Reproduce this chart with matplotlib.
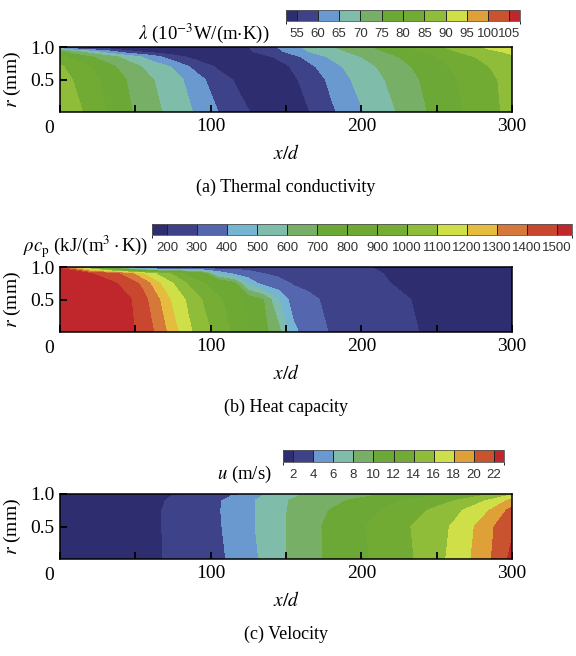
import matplotlib
matplotlib.use("Agg")
import matplotlib as mpl
import matplotlib.pyplot as plt
import numpy as np
from matplotlib.colors import ListedColormap, BoundaryNorm

plt.rcParams['font.family'] = ['Liberation Serif', 'DejaVu Serif']
plt.rcParams['mathtext.fontset'] = 'stix'

# ---------------- data ----------------
# (a) thermal conductivity, 10^-3 W/(m K), on an (r, x/d) grid
lam_x = [0, 5, 15, 30, 45, 60, 75, 90, 105, 120, 135, 150, 165, 180, 195, 210, 225, 240, 255, 270, 285, 300]
lam_r = [0, 0.5, 0.7, 0.85, 0.93, 1.0]
lam_vals = [
    [87.5, 86.8, 85.0, 80.3, 75.8, 71.8, 68.3, 64.5, 60.0, 56.2, 53.2, 52.6, 54.8, 59.1, 63.3, 67.0, 70.4, 74.2, 77.3, 80.4, 83.5, 86.5],
    [86.3, 85.7, 83.5, 78.8, 74.7, 70.5, 67.2, 62.2, 57.0, 53.8, 52.2, 53.2, 56.6, 61.2, 65.5, 68.8, 72.0, 75.3, 78.5, 81.2, 84.0, 86.7],
    [85.6, 84.4, 81.5, 77.1, 72.5, 68.3, 64.4, 58.3, 54.2, 52.4, 52.5, 54.3, 58.6, 63.1, 67.0, 70.0, 73.3, 76.4, 79.4, 82.3, 85.0, 87.5],
    [80.8, 79.5, 76.8, 72.5, 68.0, 62.8, 56.8, 53.3, 52.0, 52.0, 53.6, 57.0, 61.6, 65.8, 69.0, 72.0, 75.0, 78.0, 81.0, 84.0, 86.8, 89.2],
    [76.0, 73.5, 68.8, 62.5, 56.2, 53.0, 52.0, 51.6, 51.8, 53.2, 56.7, 60.5, 65.0, 68.0, 71.0, 74.0, 77.0, 80.0, 83.4, 86.3, 88.9, 91.0],
    [60.0, 53.0, 51.5, 51.2, 51.0, 51.0, 51.0, 51.0, 51.5, 53.5, 57.5, 61.5, 66.5, 69.5, 72.5, 75.5, 78.5, 81.5, 85.0, 88.0, 91.0, 94.0],
]
lam_ticks = [55, 60, 65, 70, 75, 80, 85, 90, 95, 100, 105]

# (b) volumetric heat capacity, kJ/(m^3 K)
cap_x = [0, 20, 35, 45, 55, 65, 75, 85, 95, 105, 115, 125, 135, 145, 155, 165, 180, 200, 220, 240, 270, 300]
cap_r = [0, 0.5, 0.75, 0.9, 0.97, 1.0]
cap_vals = [
    [1620, 1610, 1575, 1530, 1462, 1375, 1243, 1122, 1040, 962, 885, 808, 731, 634, 425, 350, 292, 262, 229, 197, 183, 170],
    [1610, 1595, 1560, 1518, 1438, 1315, 1175, 1082, 992, 921, 850, 769, 700, 500, 345, 318, 280, 250, 218, 190, 180, 168],
    [1590, 1560, 1515, 1455, 1375, 1215, 1100, 990, 908, 825, 737, 470, 355, 325, 293, 280, 262, 232, 199, 185, 177, 166],
    [1560, 1505, 1430, 1350, 1200, 1080, 980, 867, 745, 470, 380, 340, 300, 285, 272, 260, 245, 218, 193, 183, 175, 165],
    [1540, 1100, 800, 600, 450, 390, 370, 350, 310, 295, 290, 280, 270, 262, 255, 248, 238, 208, 190, 182, 174, 164],
    [800, 330, 300, 290, 282, 276, 270, 265, 260, 256, 252, 248, 244, 240, 236, 232, 225, 205, 188, 180, 172, 163],
]
cap_ticks = [200, 300, 400, 500, 600, 700, 800, 900, 1000, 1100, 1200, 1300, 1400, 1500]

# (c) axial velocity, m/s
vel_x = [0, 40, 60, 70, 80, 100, 110, 120, 130, 140, 150, 160, 175, 190, 205, 220, 235, 250, 262, 275, 287, 300]
vel_r = [0, 0.5, 0.75, 0.9, 0.97, 1.0]
vel_vals = [
    [1.3, 1.6, 1.85, 2.03, 2.5, 3.5, 4.0, 4.9, 5.8, 6.9, 8.0, 8.8, 10.05, 11.0, 12.0, 13.0, 14.0, 15.4, 16.6, 18.3, 20.1, 22.6],
    [1.3, 1.6, 1.85, 2.05, 2.55, 3.55, 4.15, 5.1, 6.05, 7.0, 8.0, 8.8, 10.1, 11.1, 12.1, 13.1, 14.15, 15.3, 16.3, 18.0, 19.85, 21.6],
    [1.3, 1.6, 1.85, 2.05, 2.55, 3.6, 4.2, 5.1, 6.05, 7.0, 7.95, 8.6, 9.8, 10.7, 11.6, 12.5, 13.4, 14.4, 15.5, 16.8, 18.25, 20.7],
    [1.25, 1.55, 1.8, 2.0, 2.5, 3.55, 4.15, 5.1, 6.05, 6.95, 7.9, 8.45, 9.25, 10.0, 10.8, 11.6, 12.4, 13.3, 14.0, 15.2, 16.5, 18.6],
    [1.1, 1.4, 1.65, 1.85, 2.25, 3.2, 3.75, 4.5, 5.6, 6.5, 7.4, 8.1, 8.8, 9.4, 9.9, 10.6, 11.3, 12.0, 12.6, 13.6, 14.8, 16.5],
    [0.9, 1.2, 1.4, 1.55, 1.9, 2.7, 3.2, 3.8, 4.7, 5.5, 6.3, 6.9, 7.5, 8.0, 8.4, 9.0, 9.6, 10.2, 10.7, 11.5, 12.6, 14.0],
]
vel_ticks = [2, 4, 6, 8, 10, 12, 14, 16, 18, 20, 22]

# ---------------- colours ----------------
colors12 = ['#2e2d6f', '#3d4289', '#6a99d0', '#80bcaa', '#78af67', '#6ba835',
            '#72ab33', '#8fbd3a', '#cfdf48', '#e0a038', '#c9522f', '#bf272c']
colors15 = ['#2e2d6f', '#3d4289', '#5466ad', '#76b5d1', '#80bcaa', '#78af67',
            '#6ba835', '#6ea934', '#76ad34', '#8fbd3a', '#cfdf48', '#e6bc3e',
            '#d6783a', '#c9472f', '#bf272c']

W, H = 576, 656
fig = plt.figure(figsize=(W / 100, H / 100), dpi=100)


def rect(l, t, r, b):
    return [l / W, 1 - b / H, (r - l) / W, (b - t) / H]


def panel(top, xs, rs, vals, ticks, colors, cb_box, title, title_right, caption):
    left, right = 60, 512
    bottom = top + 65
    ax = fig.add_axes(rect(left, top, right, bottom))
    step = ticks[1] - ticks[0]
    levels = [ticks[0] - 100 * step] + list(ticks) + [ticks[-1] + 100 * step]
    ax.contourf(xs, rs, np.array(vals), levels=levels, colors=colors)
    ax.set_xlim(0, 300)
    ax.set_ylim(0, 1)
    ax.set_xticks([0, 50, 100, 150, 200, 250, 300])
    ax.set_xticklabels(['', '', '100', '', '200', '', '300'])
    ax.set_yticks([0.5, 1.0])
    ax.set_yticklabels(['0.5', '1.0'])
    ax.tick_params(direction='in', length=5, width=1.3, labelsize=14, pad=4)
    for s in ax.spines.values():
        s.set_linewidth(1.1)
    ax.annotate('0', xy=(0, 0), xycoords='axes fraction', xytext=(-8, -12),
                textcoords='offset points', ha='center', va='center', fontsize=14)
    ax.set_ylabel(r'$r$ (mm)', fontsize=14, labelpad=5)
    ax.set_xlabel(r'$x/d$', fontsize=14, labelpad=7)
    fig.text(286 / W, 1 - (bottom + 75) / H, caption, ha='center', va='center', fontsize=13)

    # discrete colour bar with half-width end segments
    cl, ct, cr, cbm = cb_box
    cax = fig.add_axes(rect(cl, ct, cr, cbm))
    bounds = [ticks[0] - step / 2] + list(ticks) + [ticks[-1] + step / 2]
    cb = mpl.colorbar.ColorbarBase(cax, cmap=ListedColormap(colors),
                                   norm=BoundaryNorm(bounds, len(colors)),
                                   boundaries=bounds, ticks=ticks,
                                   spacing='proportional', orientation='horizontal',
                                   drawedges=True)
    cb.outline.set_linewidth(0.6)
    cb.outline.set_edgecolor('#555555')
    cb.dividers.set_linewidth(0.7)
    cb.dividers.set_color('#222222')
    cb.ax.tick_params(length=0, labelsize=9.5, pad=5, labelcolor='#333333')
    for lab in cb.ax.get_xticklabels():
        lab.set_fontfamily(['Liberation Sans Narrow', 'Liberation Sans', 'DejaVu Sans'])
    ty = cbm + 12
    fig.text(title_right / W, 1 - ty / H, title, ha='right', va='center', fontsize=13.5)
    return ax


panel(47, lam_x, lam_r, lam_vals, lam_ticks, colors12, (286, 10, 520, 21),
      r'$\lambda$ (10$^{-3}$W/(m$\cdot$K))', 270, '(a) Thermal conductivity')
panel(267, cap_x, cap_r, cap_vals, cap_ticks, colors15, (152, 224, 572, 235),
      r'$\rho c_{\mathrm{p}}$ (kJ/(m$^{3}\cdot$K))', 148, '(b) Heat capacity')
panel(494, vel_x, vel_r, vel_vals, vel_ticks, colors12, (283, 450, 504, 462),
      r'$u$ (m/s)', 272, '(c) Velocity')

fig.savefig('out.png', dpi=100)
